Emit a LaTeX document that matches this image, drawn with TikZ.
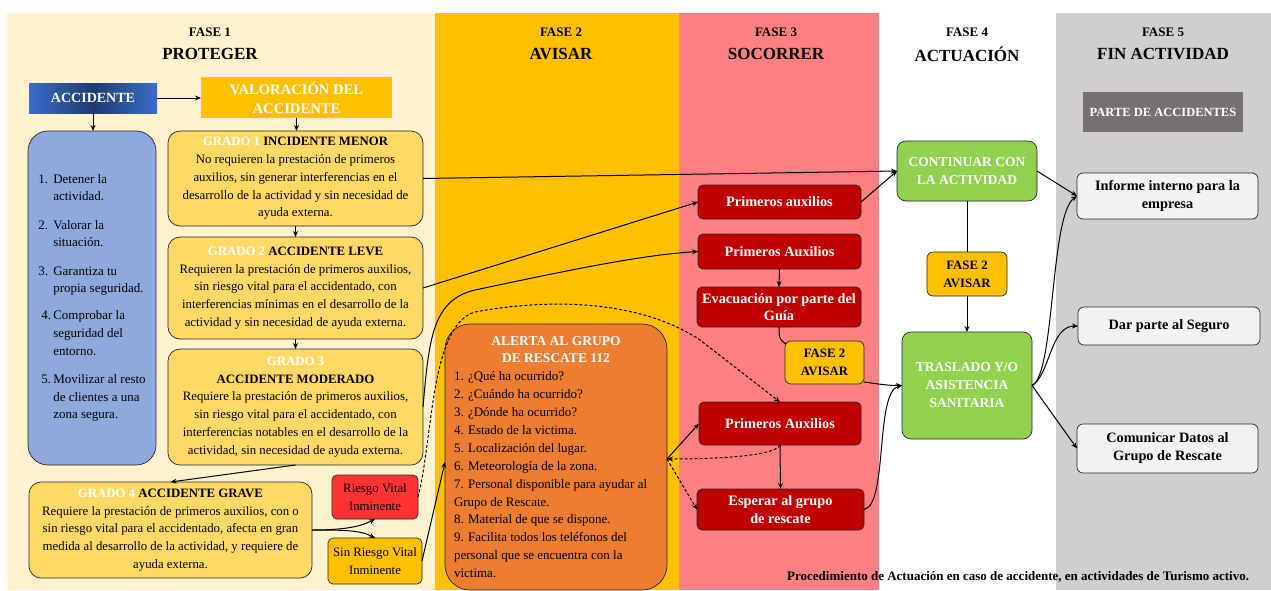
\documentclass[tikz,border=0pt]{standalone}
\usepackage{fontspec}
\setmainfont{Liberation Serif}
\usetikzlibrary{arrows.meta,calc}
\definecolor{cream}{HTML}{FFF2CC}
\definecolor{fase2}{HTML}{FFC000}
\definecolor{fase3}{HTML}{FF8080}
\definecolor{fase5}{HTML}{D0CECE}
\definecolor{grado}{HTML}{FFD966}
\definecolor{listblue}{HTML}{8EA9DB}
\definecolor{accL}{HTML}{3A6DC8}
\definecolor{accM}{HTML}{1F3A70}
\definecolor{darkred}{HTML}{C00000}
\definecolor{alertc}{HTML}{ED7D31}
\definecolor{greenb}{HTML}{92D050}
\definecolor{riesgoc}{HTML}{FF3333}
\definecolor{finbox}{HTML}{F2F2F2}
\definecolor{partec}{HTML}{767171}
\begin{document}
\begin{tikzpicture}[x=1pt,y=-1pt,
  every node/.style={inner sep=0pt,outer sep=0pt},
  f12/.style={font=\fontsize{12.8}{17.8}\selectfont},
  bx/.style={draw=black!85,line width=0.7pt},
  hd/.style={font=\bfseries\fontsize{13}{15}\selectfont},
  hb/.style={font=\bfseries\fontsize{17}{20}\selectfont},
  redbox/.style={bx,fill=darkred,rounded corners=5pt,text=white,align=center,font=\bfseries\fontsize{14.3}{17.5}\selectfont},
  grbox/.style={bx,fill=greenb,rounded corners=9pt,text=white,align=center,font=\bfseries\fontsize{13.5}{18}\selectfont},
  avbox/.style={bx,fill=fase2,rounded corners=6pt,align=center,font=\bfseries\fontsize{12.8}{18}\selectfont},
  finb/.style={bx,fill=finbox,rounded corners=6pt,align=center,font=\bfseries\fontsize{14.3}{18}\selectfont},
  lk/.style={line width=1pt,-{Stealth[length=6pt,width=5pt]}},
  ln/.style={line width=1pt},
  dsh/.style={dash pattern=on 3pt off 2pt},
]
\useasboundingbox (0,0) rectangle (1271,590);
\fill[white] (0,0) rectangle (1271,590);
% columns
\fill[cream] (7,13) rectangle (435,590);
\fill[fase2] (435,13) rectangle (679,590);
\fill[fase3] (679,13) rectangle (879,590);
\fill[fase5] (1056,13) rectangle (1271,590);
% headers
\node[hd] (h1a) at (210,32) {FASE 1};
\node[hb] (h1b) at (210,54) {PROTEGER};
\node[hd] (h2a) at (561,32) {FASE 2};
\node[hb] (h2b) at (561,54) {AVISAR};
\node[hd] (h3a) at (776,32) {FASE 3};
\node[hb] (h3b) at (776,54) {SOCORRER};
\node[hd] (h4a) at (967,32) {FASE 4};
\node[hb] (h4b) at (967,54) {ACTUACIÓN};
\node[hd] (h5a) at (1163,32) {FASE 5};
\node[hb] (h5b) at (1163,54) {FIN ACTIVIDAD};
% fase 1
\node[left color=accL,right color=accL,middle color=accM,minimum width=128pt,minimum height=30pt,text=white,font=\bfseries\fontsize{14}{16}\selectfont] (acc) at (93,98) {ACCIDENTE};
\node[fill=fase2,minimum width=191pt,minimum height=41pt,text=white,align=center,font=\bfseries\fontsize{14.6}{19}\selectfont] (val) at (296.5,97.5) {VALORACIÓN DEL\\ACCIDENTE};
\node[bx,fill=listblue,rounded corners=20pt,minimum width=128pt,minimum height=334pt,font=\fontsize{13}{17.7}\selectfont,align=left] (blue) at (92,298) {%
\makebox[15pt][l]{1.}Detener la\\\hspace*{15pt}actividad.\\[10.5pt]
\makebox[15pt][l]{2.}Valorar la\\\hspace*{15pt}situación.\\[10.5pt]
\makebox[15pt][l]{3.}Garantiza tu\\\hspace*{15pt}propia seguridad.\\[9.5pt]
\makebox[15pt][r]{4.\,}Comprobar la\\\hspace*{15pt}seguridad del\\\hspace*{15pt}entorno.\\[10.5pt]
\makebox[15pt][r]{5.\,}Movilizar al resto\\\hspace*{15pt}de clientes a una\\\hspace*{15pt}zona segura.};
\node[bx,fill=grado,rounded corners=12pt,minimum width=255pt,minimum height=95pt,f12,align=center] (g1) at (295.5,178.5) {\textbf{\textcolor{white}{GRADO 1} INCIDENTE MENOR}\\No requieren la prestación de primeros\\auxilios, sin generar interferencias en el\\desarrollo de la actividad y sin necesidad de\\ayuda externa.};
\node[bx,fill=grado,rounded corners=12pt,minimum width=255pt,minimum height=102pt,f12,align=center] (g2) at (295.5,288) {\textbf{\textcolor{white}{GRADO 2} ACCIDENTE LEVE}\\Requieren la prestación de primeros auxilios,\\sin riesgo vital para el accidentado, con\\interferencias mínimas en el desarrollo de la\\actividad y sin necesidad de ayuda externa.};
\node[bx,fill=grado,rounded corners=12pt,minimum width=255pt,minimum height=116pt,f12,align=center] (g3) at (295.5,407) {\textbf{\textcolor{white}{GRADO 3}}\\\textbf{ACCIDENTE MODERADO}\\Requiere la prestación de primeros auxilios,\\sin riesgo vital para el accidentado, con\\interferencias notables en el desarrollo de la\\actividad, sin necesidad de ayuda externa.};
\node[bx,fill=grado,rounded corners=12pt,minimum width=283pt,minimum height=96pt,f12,align=center] (g4) at (170.5,530) {\textbf{\textcolor{white}{GRADO 4} ACCIDENTE GRAVE}\\Requiere la prestación de primeros auxilios, con o\\sin riesgo vital para el accidentado, afecta en gran\\medida al desarrollo de la actividad, y requiere de\\ayuda externa.};
\node[bx,fill=riesgoc,rounded corners=5pt,minimum width=86pt,minimum height=44pt,f12,align=center] (riesgo) at (375,497) {Riesgo Vital\\Inminente};
\node[bx,fill=fase2,rounded corners=5pt,minimum width=94pt,minimum height=46pt,f12,align=center] (sin) at (375,561) {Sin Riesgo Vital\\Inminente};
% fase 2
\node[bx,fill=alertc,rounded corners=25pt,minimum width=222pt,minimum height=266pt] (alerta) at (556,457) {\parbox{204pt}{\centering\bfseries\color{white}\fontsize{13.5}{17.8}\selectfont ALERTA AL GRUPO\\DE RESCATE 112\par
\raggedright\mdseries\color{black}\fontsize{13}{17.9}\selectfont
1. ¿Qué ha ocurrido?\\
2. ¿Cuándo ha ocurrido?\\
3. ¿Dónde ha ocurrido?\\
4. Estado de la victima.\\
5. Localización del lugar.\\
6. Meteorología de la zona.\\
7. Personal disponible para ayudar al\\
Grupo de Rescate.\\
8. Material de que se dispone.\\
9. Facilita todos los teléfonos del\\
personal que se encuentra con la\\
victima.}};
% fase 3
\node[redbox,minimum width=163pt,minimum height=34pt] (pa1) at (779.5,202) {Primeros auxilios};
\node[redbox,minimum width=163pt,minimum height=35pt] (pa2) at (779.5,251.5) {Primeros Auxilios};
\node[redbox,minimum width=164pt,minimum height=40pt] (evac) at (779,307) {Evacuación por parte del\\Guía};
\node[avbox,minimum width=79pt,minimum height=43pt] (f2b) at (824.5,362.5) {FASE 2\\AVISAR};
\node[redbox,minimum width=162pt,minimum height=43pt] (pa3) at (780,423.5) {Primeros Auxilios};
\node[redbox,minimum width=167pt,minimum height=41pt] (esp) at (780.5,509.5) {Esperar al grupo\\de rescate};
% fase 4
\node[grbox,minimum width=140pt,minimum height=60pt] (cont) at (967,171) {CONTINUAR CON\\LA ACTIVIDAD};
\node[avbox,minimum width=80pt,minimum height=44pt] (f2c) at (967,274) {FASE 2\\AVISAR};
\node[grbox,minimum width=130pt,minimum height=107pt] (trasl) at (967,385.5) {TRASLADO Y/O\\ASISTENCIA\\SANITARIA};
% fase 5
\node[fill=partec,minimum width=160pt,minimum height=40pt,text=white,font=\bfseries\fontsize{12.5}{14}\selectfont] (parte) at (1163,112) {PARTE DE ACCIDENTES};
\node[finb,minimum width=181pt,minimum height=46pt] (inf) at (1167.5,196) {Informe interno para la\\empresa};
\node[finb,minimum width=182pt,minimum height=38pt] (dar) at (1169,326) {Dar parte al Seguro};
\node[finb,minimum width=181pt,minimum height=49pt] (com) at (1167.5,448.5) {Comunicar Datos al\\Grupo de Rescate};
% footer
\node[anchor=east,font=\bfseries\fontsize{13}{15}\selectfont] (foot) at (1249,577) {Procedimiento de Actuación en caso de accidente, en actividades de Turismo activo.};
% connectors
\draw[lk] (acc.east) -- (acc.east -| val.west);
\draw[lk] (acc.south) -- (acc.south |- blue.north);
\draw[lk] (val.south) -- (val.south |- g1.north);
\draw[lk] (g1.south) -- (g1.south |- g2.north);
\draw[lk] (g2.south) -- (g2.south |- g3.north);
\draw[lk] (g3.south) -- (g4.north);
\draw[lk] (g4.east) .. controls +(30,0) and +(-15,8) .. (riesgo.south);
\draw[lk] (g4.east) .. controls +(30,0) and +(-15,-8) .. (sin.north);
\draw[lk] (g1.east) -- (cont.west);
\draw[lk] (g2.east) -- (pa1.west);
\draw[lk] (g3.east) .. controls (429,340) and (432,300) .. (475,290) .. controls (560,272) and (640,255) .. (pa2.west);
\draw[lk,dsh] (riesgo.east) .. controls (433,440) and (430,325) .. (475,312) .. controls (550,298) and (640,300) .. (700,340) -- (pa3.north);
\coordinate (aw) at ($(alerta.west)+(0,5)$);
\draw[lk] (sin.east) -- (aw);
\draw[lk] (pa2.south) -- (evac.north);
\draw[ln] (evac.south) .. controls +(0,12) and +(-6,-4) .. ($(f2b.north west)+(1,3)$);
\draw[lk] ($(f2b.south east)+(0,-2)$) .. controls +(15,2) and +(-15,0) .. (trasl.west);
\draw[lk] (pa3.south) -- (esp.north);
\coordinate (ae) at ($(alerta.east)+(0,2)$);
\draw[lk] (ae) -- (pa3.west);
\draw[lk,dsh] (pa3.south) .. controls +(-5,12) and +(40,0) .. (ae);
\draw[lk,dsh] (ae) -- (esp.west);
\draw[lk] (esp.east) .. controls (888,505) and (875,392) .. (trasl.west);
\draw[lk] (pa1.east) -- (cont.west);
\draw[ln] (cont.south) -- (f2c.north);
\draw[lk] (f2c.south) -- (trasl.north);
\draw[lk] (cont.east) -- (inf.west);
\draw[lk] (trasl.east) .. controls (1055,375) and (1050,215) .. (inf.west);
\draw[lk] (trasl.east) .. controls (1050,375) and (1050,326) .. (dar.west);
\draw[lk] (trasl.east) -- (com.west);
\end{tikzpicture}
\end{document}
